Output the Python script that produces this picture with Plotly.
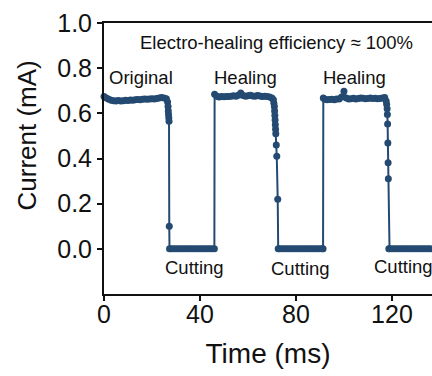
import plotly.graph_objects as go

# Time (ms) and current (mA)
time_ms = [
    # original plateau
    0, 1, 2, 3, 4, 5, 6, 7, 8, 9, 10, 11, 12, 13, 14, 15, 16, 17, 18, 19, 20, 21, 22, 23, 24, 25, 26,
    # first cut
    26.5, 26.7, 26.8, 26.9, 27.0, 27.1, 27.2,
    27.3, 28, 29, 30, 31, 32, 33, 34, 35, 36, 37, 38, 39, 40, 41, 42, 43, 44, 45, 46,
    # first healing
    46.1, 47, 48, 49, 50, 51, 52, 53, 54, 55, 56, 57, 58, 59, 60, 61, 62, 63, 64, 65, 66, 67, 68, 69, 70,
    # second cut
    70.6, 70.8, 71.0, 71.1, 71.2, 71.3, 71.4, 71.5, 71.6, 71.8, 72.0, 72.4,
    72.6, 73, 74, 75, 76, 77, 78, 79, 80, 81, 82, 83, 84, 85, 86, 87, 88, 89, 90, 91, 91.3,
    # second healing
    91.4, 92, 93, 94, 95, 96, 97, 98, 99, 100, 101, 102, 103, 104, 105, 106, 107, 108, 109, 110,
    111, 112, 113, 114, 115, 116, 117,
    # third cut
    117.6, 117.8, 118.0, 118.1, 118.2, 118.3, 118.4, 118.5,
    118.7, 119, 120, 121, 122, 123, 124, 125, 126, 127, 128, 129, 130, 131, 132, 133, 134, 135, 136, 137, 138,
]
current_ma = [
    0.675, 0.668, 0.662, 0.658, 0.656, 0.655, 0.657, 0.655, 0.656, 0.658, 0.657, 0.659, 0.658, 0.660,
    0.661, 0.660, 0.662, 0.663, 0.662, 0.664, 0.665, 0.664, 0.666, 0.668, 0.670, 0.668, 0.665,
    0.650, 0.630, 0.610, 0.595, 0.580, 0.565, 0.100,
    0, 0, 0, 0, 0, 0, 0, 0, 0, 0, 0, 0, 0, 0, 0, 0, 0, 0, 0, 0,
    0.684, 0.676, 0.672, 0.674, 0.673, 0.675, 0.674, 0.676, 0.678, 0.676, 0.680, 0.690, 0.679, 0.676,
    0.678, 0.680, 0.677, 0.676, 0.679, 0.677, 0.675, 0.676, 0.674, 0.672, 0.668,
    0.660, 0.645, 0.630, 0.610, 0.590, 0.570, 0.550, 0.530, 0.510, 0.460, 0.410, 0.220,
    0, 0, 0, 0, 0, 0, 0, 0, 0, 0, 0, 0, 0, 0, 0, 0, 0, 0, 0, 0, 0,
    0.668, 0.662, 0.660, 0.661, 0.662, 0.660, 0.663, 0.664, 0.672, 0.698, 0.668, 0.664, 0.665,
    0.667, 0.664, 0.666, 0.668, 0.667, 0.665, 0.666, 0.668, 0.666, 0.667, 0.665, 0.666, 0.668, 0.670,
    0.655, 0.640, 0.620, 0.595, 0.553, 0.469, 0.381, 0.310,
    0, 0, 0, 0, 0, 0, 0, 0, 0, 0, 0, 0, 0, 0, 0, 0, 0, 0, 0, 0, 0,
]

y_ticks = [0.0, 0.2, 0.4, 0.6, 0.8, 1.0]
y_tick_labels = ["0.0", "0.2", "0.4", "0.6", "0.8", "1.0"]
x_ticks = [0, 40, 80, 120]
x_tick_labels = ["0", "40", "80", "120"]

state_labels = ["Original", "Healing", "Healing", "Cutting", "Cutting", "Cutting"]
state_x = [15.6, 59.0, 104.5, 37.7, 81.9, 124.9]
state_y = [0.758, 0.758, 0.758, -0.082, -0.087, -0.08]

color = "#244a72"
text_color = "#111111"
font_family = "Arial, Liberation Sans, sans-serif"

fig = go.Figure()
fig.add_trace(go.Scatter(
    x=time_ms, y=current_ma, mode="lines+markers",
    line=dict(color=color, width=2),
    marker=dict(color=color, size=7),
    showlegend=False, cliponaxis=False,
))

for txt, xx, yy in zip(state_labels, state_x, state_y):
    fig.add_annotation(x=xx, y=yy, text=txt, showarrow=False,
                       font=dict(size=18.5, color=text_color, family=font_family))

fig.add_annotation(x=71.7, y=0.912, text="Electro-healing efficiency ≈ 100%", showarrow=False,
                   font=dict(size=18.5, color=text_color, family=font_family))

# y-axis title placed as rotated text
fig.add_annotation(xref="paper", yref="paper", x=0, y=0.583, xshift=-76.5, textangle=-90,
                   xanchor="center", yanchor="middle",
                   text="Current (mA)", showarrow=False,
                   font=dict(size=26, color=text_color, family=font_family))

fig.update_layout(
    width=432, height=376,
    margin=dict(l=104, r=0, t=23, b=82),
    paper_bgcolor="white", plot_bgcolor="white",
    font=dict(family=font_family, color=text_color),
)
fig.update_xaxes(
    range=[0, 136.7], showgrid=False, zeroline=False,
    showline=True, linecolor=text_color, linewidth=2, mirror=True,
    ticks="outside", ticklen=5, tickwidth=1.5, tickcolor=text_color,
    tickvals=x_ticks, ticktext=x_tick_labels, ticklabelstandoff=-8,
    tickfont=dict(size=25, family=font_family, color=text_color),
    title=dict(text="Time (ms)", font=dict(size=28, family=font_family, color=text_color), standoff=16),
)
fig.update_yaxes(
    range=[-0.2, 1.0], showgrid=False, zeroline=False,
    showline=True, linecolor=text_color, linewidth=2, mirror=False,
    ticks="outside", ticklen=5, tickwidth=1.5, tickcolor=text_color,
    tickvals=y_ticks, ticktext=y_tick_labels,
    tickfont=dict(size=25, family=font_family, color=text_color),
)

fig.write_html("out.html")
